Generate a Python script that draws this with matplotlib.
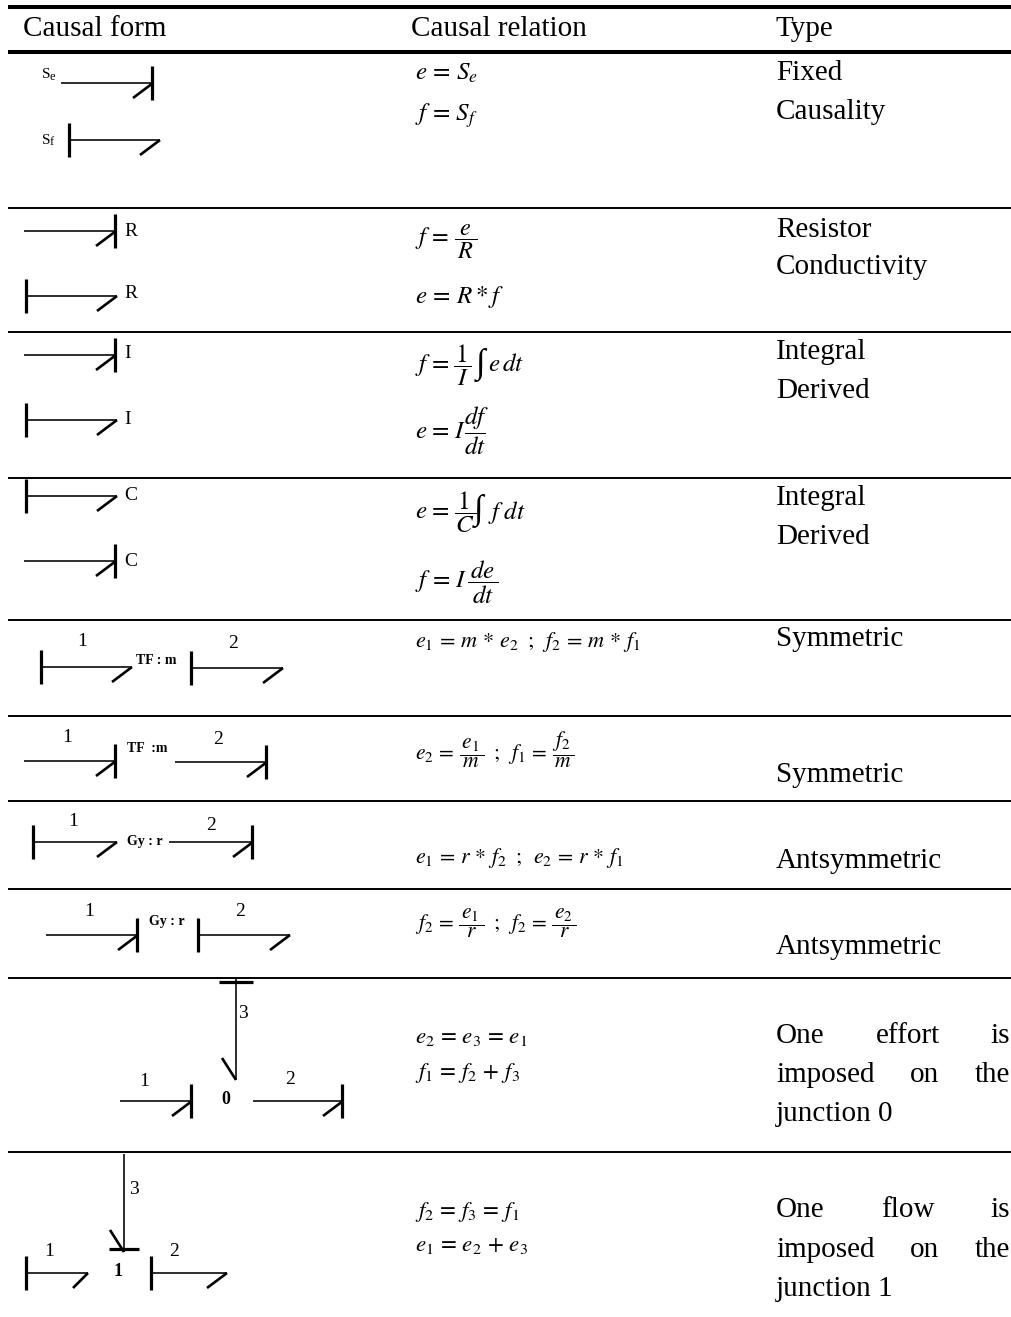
import matplotlib
matplotlib.use("Agg")
import matplotlib.pyplot as plt

plt.rcParams['font.family'] = ['Liberation Serif', 'DejaVu Serif']
plt.rcParams['mathtext.fontset'] = 'stix'

W, H = 1011, 1317

# ---- table content -------------------------------------------------------
headers = [("Causal form", 23), ("Causal relation", 411), ("Type", 776)]
thick_rules = [7, 52]
thin_rules = [208, 332, 478, 620, 716, 801, 889, 978, 1152]

# equation, x, y centre, size
equations = [
    (r"$e\,=\,S_{e}$", 415, 73, 18),
    (r"$f\,=\,S_{f}$", 415, 116, 18),
    (r"$f\,=\,\dfrac{\,e\,}{\,R\,}$", 415, 242, 17.5),
    (r"$e\,=\,R*f$", 415, 297, 18),
    (r"$f\hspace{0.1}=\hspace{0.1}\dfrac{\hspace{0.1}1\hspace{0.1}}{\hspace{0.1}I\hspace{0.1}}$", 415, 365, 18),
    (r"$e\,dt$", 488, 365, 18),
    (r"$e\hspace{0.1}=\hspace{0.1}I\hspace{0.1}\dfrac{df}{dt}$", 415, 431, 18),
    (r"$e\hspace{0.1}=\hspace{0.1}\dfrac{\hspace{0.1}1\hspace{0.1}}{\hspace{0.1}C\hspace{0.1}}$", 415, 512, 18),
    (r"$f\;dt$", 488, 512, 18),
    (r"$f\,=\,I\,\dfrac{\,de\,}{\,dt\,}$", 415, 582, 18),
    (r"$e_1\,=\,m\,*\,e_2\;\;;\;\;f_2\,=\,m\,*\,f_1$", 415, 642, 16),
    (r"$e_2\,=\,\dfrac{\,e_1\,}{\,m\,}\;\;;\;\;f_1\,=\,\dfrac{\,f_2\,}{\,m\,}$", 415, 750, 15.5),
    (r"$e_1\,=\,r\,*\,f_2\;\;;\;\;e_2\,=\,r\,*\,f_1$", 415, 858, 15.8),
    (r"$f_2\,=\,\dfrac{\,e_1\,}{\,r\,}\;\;;\;\;f_2\,=\,\dfrac{\,e_2\,}{\,r\,}$", 415, 923, 15.5),
    (r"$e_2\,=\,e_3\,=\,e_1$", 415, 1038, 16.5),
    (r"$f_1\,=\,f_2\,+\,f_3$", 415, 1073, 16.5),
    (r"$f_2\,=\,f_3\,=\,f_1$", 415, 1212, 16.5),
    (r"$e_1\,=\,e_2\,+\,e_3$", 415, 1246, 16.5),
]
# large integral signs: x, y centre
integrals = [(476, 365), (474, 511)]

# text, baseline y
types = [
    ("Fixed", 80), ("Causality", 119), ("Resistor", 237), ("Conductivity", 274),
    ("Integral", 359), ("Derived", 398), ("Integral", 505), ("Derived", 544),
    ("Symmetric", 646), ("Symmetric", 782), ("Antsymmetric", 868), ("Antsymmetric", 954),
    ("junction 0", 1121), ("junction 1", 1296),
]
justified = [
    (["One", "effort", "is"], 1043), (["imposed", "on", "the"], 1082),
    (["One", "flow", "is"], 1217), (["imposed", "on", "the"], 1257),
]

# ---- bond graph elements: (x start, x end, y) ----------------------------
# stroke bar on the right end, half arrow at right end
effort_bonds = [
    (61, 153, 83), (24, 116, 231), (24, 116, 355), (24, 116, 561),
    (24, 116, 761), (175, 267, 762), (169, 253, 842), (46, 138, 935),
    (120, 192, 1101), (253, 343, 1101),
]
# stroke bar on the left end, half arrow at right end
flow_bonds = [
    (68, 160, 140), (25, 117, 296), (25, 117, 420), (25, 117, 496),
    (40, 132, 667), (190, 283, 668), (32, 117, 842), (197, 290, 935),
    (25, 88, 1273), (150, 227, 1273),
]
# vertical bonds: (x, y start, y end, y of the stroke)
vertical_bonds = [(236, 979, 1080, 982), (124, 1154, 1252, 1249)]

labels = [
    ("R", 124, 231), ("R", 124, 294), ("I", 124, 354), ("I", 124, 420),
    ("C", 124, 495), ("C", 124, 561),
    ("1", 82, 642), ("2", 233, 644), ("1", 67, 737), ("2", 218, 739),
    ("1", 73, 822), ("2", 211, 825), ("1", 89, 911), ("2", 240, 912),
    ("3", 238, 1014), ("1", 144, 1081), ("2", 290, 1079),
    ("3", 129, 1189), ("1", 49, 1251), ("2", 174, 1252),
]
bold_labels = [
    ("TF : m", 136, 661), ("TF  :m", 127, 748), ("Gy : r", 127, 841),
    ("Gy : r", 149, 922), ("0", 221, 1099), ("1", 114, 1272),
]

# ---- drawing -------------------------------------------------------------
fig = plt.figure(figsize=(W / 100, H / 100), dpi=100, facecolor="white")
ax = fig.add_axes([0, 0, 1, 1])
ax.set_xlim(0, W)
ax.set_ylim(H, 0)
ax.axis("off")

LINE, BAR, BARB = 1.15, 2.3, 1.9
BLACK = "black"
TEXT_SIZE = 21


def seg(xs, ys, lw):
    ax.plot(xs, ys, color=BLACK, lw=lw, solid_capstyle="butt", clip_on=False)


for y in thick_rules:
    seg([8, W], [y, y], 2.9)
for y in thin_rules:
    seg([8, W], [y, y], 1.4)

for txt, x in headers:
    ax.text(x, 36, txt, fontsize=TEXT_SIZE, ha="left", va="baseline")

for txt, x, y, s in equations:
    ax.text(x, y, txt, fontsize=s, ha="left", va="center")
for x, y in integrals:
    ax.text(x, y, "\u222b", fontsize=25, ha="left", va="center",
            family=["Liberation Serif", "DejaVu Serif"])

for txt, y in types:
    ax.text(776, y, txt, fontsize=TEXT_SIZE, ha="left", va="baseline")

renderer = fig.canvas.get_renderer()
for words, y in justified:
    ts = [ax.text(776, y, w, fontsize=TEXT_SIZE, ha="left", va="baseline") for w in words]
    ws = [t.get_window_extent(renderer).width for t in ts]
    gap = (1010 - 776 - sum(ws)) / 2
    ts[1].set_x(776 + ws[0] + gap)
    ts[2].set_x(1010 - ws[2])

for x0, x1, y in effort_bonds:
    seg([x0, x1], [y, y], LINE)
    seg([x1 - 1, x1 - 1], [y - 17, y + 17], BAR)
    seg([x1, x1 - 20], [y, y + 15], BARB)

for x0, x1, y in flow_bonds:
    seg([x0, x1], [y, y], LINE)
    seg([x0 + 0.5, x0 + 0.5], [y - 17, y + 17], BAR)
    dx = 20 if x1 - x0 > 70 else 15
    seg([x1, x1 - dx], [y, y + 15], BARB)

for x, y0, y1, ys in vertical_bonds:
    seg([x, x], [y0, y1], LINE)
    half = 17 if ys < 1100 else 15
    seg([x - half, x + half], [ys, ys], BAR)
    seg([x, x - 14], [y1, y1 - 22], BARB)

for txt, x, y in labels:
    ax.text(x, y, txt, fontsize=14, ha="left" if txt in "RIC3" else "center", va="center")
for txt, x, y in bold_labels:
    size = 13 if txt in "01" else 10
    ax.text(x, y, txt, fontsize=size, fontweight="bold", ha="left", va="center")

ax.text(42, 75, "S", fontsize=11, ha="left", va="center")
ax.text(50, 77, "e", fontsize=9, ha="left", va="center")
ax.text(42, 140, "S", fontsize=11, ha="left", va="center")
ax.text(50, 142, "f", fontsize=9, ha="left", va="center")

fig.savefig("out.png", dpi=100)
